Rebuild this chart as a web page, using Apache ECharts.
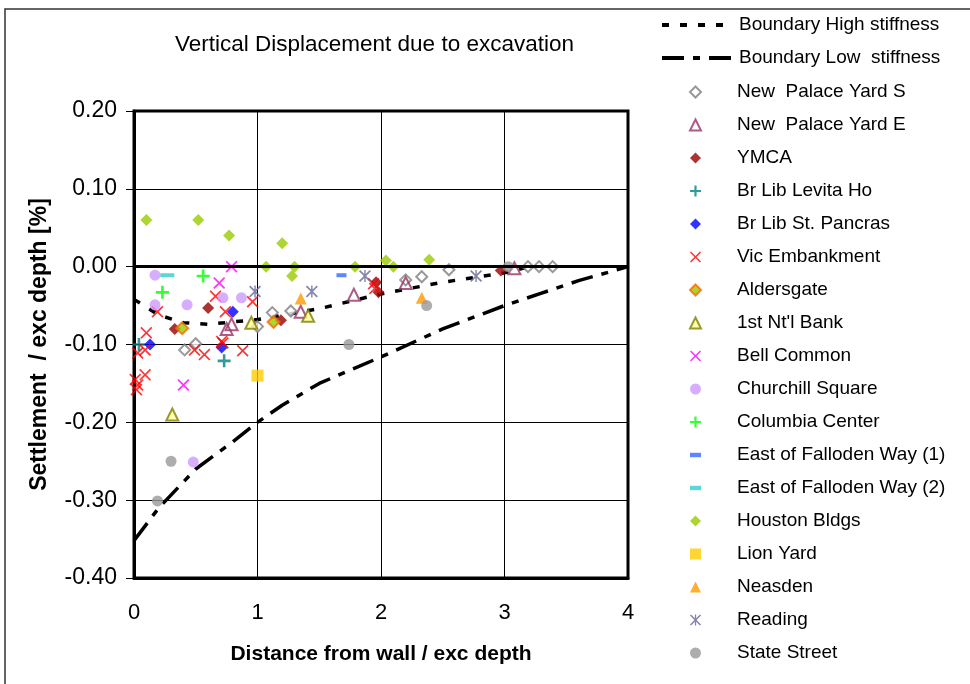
<!DOCTYPE html>
<html>
<head>
<meta charset="utf-8">
<script src="https://cdn.jsdelivr.net/npm/echarts@6/dist/echarts.min.js"></script>
<style>html,body{margin:0;padding:0;background:#fff;}#c{width:970px;height:684px;}</style>
</head>
<body>
<div id="c"></div>
<script>
// ---- data ----
const highStiffX = [0, 0.2, 0.4, 0.6, 1.0, 1.5, 2.0, 2.5, 3.0, 3.2];
const highStiffY = [-0.042, -0.062, -0.072, -0.074, -0.068, -0.054, -0.035, -0.02, -0.008, 0];
const lowStiffX = [0, 0.2, 0.5, 0.8, 1.0, 1.2, 1.5, 2.0, 2.5, 3.0, 3.3, 3.6, 4.0];
const lowStiffY = [-0.352, -0.31, -0.26, -0.225, -0.2, -0.178, -0.15, -0.116, -0.08, -0.05, -0.034, -0.018, 0];

const newPalaceYardS = [[0.41,-0.107],[0.5,-0.099],[1.0,-0.077],[1.12,-0.059],[1.27,-0.057],[2.2,-0.017],[2.33,-0.013],[2.55,-0.004],[3.19,0],[3.28,0],[3.39,0]];
const newPalaceYardE = [[0.75,-0.08],[0.79,-0.074],[1.35,-0.058],[1.78,-0.036],[2.2,-0.021],[3.08,-0.002]];
const ymca = [[0.33,-0.08],[0.6,-0.053],[1.19,-0.069],[1.96,-0.02],[1.98,-0.033],[2.97,-0.005]];
const brLibLevita = [[0.04,-0.1],[0.73,-0.121]];
const brLibStPancras = [[0.13,-0.1],[0.71,-0.104],[0.8,-0.058]];
const vicEmbankment = [[0.19,-0.058],[0.1,-0.085],[0.66,-0.038],[0.74,-0.058],[0.96,-0.045],[0.71,-0.096],[0.03,-0.111],[0.09,-0.107],[0.49,-0.107],[0.57,-0.113],[0.72,-0.098],[0.88,-0.108],[0.01,-0.145],[0.09,-0.139],[0.02,-0.158],[0.03,-0.152],[1.94,-0.022],[1.95,-0.028]];
const aldersgate = [[0.39,-0.079],[1.13,-0.071]];
const firstNtlBank = [[0.31,-0.19],[0.95,-0.072],[1.41,-0.063]];
const bellCommon = [[0.79,0],[0.69,-0.021],[0.4,-0.152]];
const churchillSquare = [[0.17,-0.011],[0.17,-0.049],[0.43,-0.049],[0.72,-0.04],[0.87,-0.04],[0.48,-0.251]];
const columbiaCenter = [[0.56,-0.012],[0.23,-0.033]];
const fallodenWay1 = [[1.68,-0.011]];
const fallodenWay2 = [[0.27,-0.011]];
const houstonBldgs = [[0.1,0.06],[0.52,0.06],[0.77,0.04],[1.07,0],[1.2,0.03],[1.3,0],[1.28,-0.012],[1.79,0],[2.04,0.008],[2.1,0],[2.39,0.009]];
const lionYard = [[1.0,-0.14]];
const neasden = [[1.35,-0.041],[2.33,-0.04]];
const reading = [[0.98,-0.032],[1.44,-0.032],[1.87,-0.012],[2.77,-0.012]];
const stateStreet = [[0.3,-0.25],[0.19,-0.301],[1.74,-0.1],[2.37,-0.05],[3.03,0]];

const xTicks = [0, 1, 2, 3, 4];
const yTicks = [-0.4, -0.3, -0.2, -0.1, 0, 0.1, 0.2];

// ---- symbols ----
const X_PATH = 'path://M0,1L1,0L5,4L9,0L10,1L6,5L10,9L9,10L5,6L1,10L0,9L4,5Z';
const PLUS_PATH = 'path://M4,0H6V4H10V6H6V10H4V6H0V4H4Z';
const STAR_PATH = 'path://M0,1L1,0L5,4L9,0L10,1L6,5L10,9L9,10L5,6L1,10L0,9L4,5Z M4.4,0H5.6V10H4.4Z';
const DASH_PATH = 'path://M0,0H10V4H0Z';

const FONT = "'Liberation Sans', Arial, sans-serif";

function pairs(xs, ys){ return xs.map((x,i)=>[x, ys[i]]); }

function sc(name, data, symbol, size, itemStyle){
  return {name, type:'scatter', data, symbol, symbolSize:size, itemStyle, z:3};
}

const scatterSeries = [
  sc('New  Palace Yard S', newPalaceYardS, 'diamond', 11, {color:'#ffffff', borderColor:'#808080', borderWidth:2}),
  sc('New  Palace Yard E', newPalaceYardE, 'triangle', 12, {color:'rgba(255,255,255,0)', borderColor:'#993366', borderWidth:2}),
  sc('YMCA', ymca, 'diamond', 12, {color:'#990000'}),
  sc('Br Lib Levita Ho', brLibLevita, PLUS_PATH, 13, {color:'#008080'}),
  sc('Br Lib St. Pancras', brLibStPancras, 'diamond', 12, {color:'#0000FF'}),
  sc('Vic Embankment', vicEmbankment, X_PATH, 12, {color:'#FF0000'}),
  sc('Aldersgate', aldersgate, 'diamond', 12, {color:'#99CC00', borderColor:'#FF6600', borderWidth:2}),
  sc("1st Nt'l Bank", firstNtlBank, 'triangle', 12, {color:'#FFFF99', borderColor:'#808000', borderWidth:2}),
  sc('Bell Common', bellCommon, X_PATH, 12, {color:'#FF00FF'}),
  sc('Churchill Square', churchillSquare, 'circle', 11, {color:'#CC99FF'}),
  sc('Columbia Center', columbiaCenter, PLUS_PATH, 13, {color:'#00FF00'}),
  sc('East of Falloden Way (1)', fallodenWay1, DASH_PATH, [10,4], {color:'#3366FF'}),
  sc('East of Falloden Way (2)', fallodenWay2, DASH_PATH, [14,4], {color:'#33CCCC'}),
  sc('Houston Bldgs', houstonBldgs, 'diamond', 12, {color:'#99CC00'}),
  sc('Lion Yard', lionYard, 'rect', 12, {color:'#FFCC00'}),
  sc('Neasden', neasden, 'triangle', 12, {color:'#FF9900'}),
  sc('Reading', reading, STAR_PATH, 12, {color:'#666699'}),
  sc('State Street', stateStreet, 'circle', 11, {color:'#999999'})
];

const lineSeries = [
  {name:'Boundary High stiffness', type:'line', data:pairs(highStiffX, highStiffY), symbol:'none', z:2,
   lineStyle:{color:'#000', width:3.5, type:[7,11]}, itemStyle:{color:'#000'},
   markLine:{silent:true, symbol:'none', label:{show:false}, lineStyle:{color:'#000', width:3, type:'solid'}, data:[{yAxis:0}], animation:false}},
  {name:'Boundary Low  stiffness', type:'line', data:pairs(lowStiffX, lowStiffY), symbol:'none', z:2,
   lineStyle:{color:'#000', width:3.5, type:[22,9,7,9]}, itemStyle:{color:'#000'}}
];

const chart = echarts.init(document.getElementById('c'), null, {renderer:'canvas'});
chart.setOption({
  animation:false,
  backgroundColor:'#fff',
  textStyle:{fontFamily:FONT},
  title:{text:'Vertical Displacement due to excavation', left:170, top:28,
    textStyle:{fontFamily:FONT, fontSize:22.5, fontWeight:'normal', color:'#000'}},
  graphic:[{type:'rect', shape:{x:5, y:9, width:1000, height:700}, style:{fill:'none', stroke:'#333', lineWidth:1.5}, z:-10, silent:true}],
  grid:{left:134, top:111, width:494, height:467, show:true, borderColor:'#000', borderWidth:3, backgroundColor:'transparent'},
  legend:[
    {data:lineSeries.map(s=>s.name), orient:'vertical', left:660, top:15, padding:0, itemGap:13,
     itemWidth:72, itemHeight:14, selectedMode:false,
     itemStyle:{opacity:0},
     lineStyle:{width:4},
     textStyle:{fontFamily:FONT, fontSize:19, color:'#000', lineHeight:20}},
    {data:scatterSeries.map(s=>s.name), orient:'vertical', left:689, top:82, padding:0, itemGap:13,
     itemWidth:11, itemHeight:11, selectedMode:false,
     textStyle:{fontFamily:FONT, fontSize:19, color:'#000', lineHeight:20, padding:[0,0,0,31]}}
  ],
  xAxis:{type:'value', min:xTicks[0], max:xTicks[xTicks.length-1], interval:1,
    name:'Distance from wall / exc depth', nameLocation:'middle', nameGap:66,
    nameTextStyle:{fontFamily:FONT, fontSize:21, fontWeight:'bold', color:'#000'},
    axisLine:{show:true, onZero:false, lineStyle:{color:'#000', width:3}},
    axisTick:{show:false},
    axisLabel:{fontFamily:FONT, fontSize:22, color:'#000', margin:24},
    splitLine:{show:true, lineStyle:{color:'#000', width:1}}},
  yAxis:{type:'value', min:yTicks[0], max:yTicks[yTicks.length-1], interval:0.1,
    name:'Settlement  / exc depth [%]', nameLocation:'middle', nameGap:83,
    nameTextStyle:{fontFamily:FONT, fontSize:23, fontWeight:'bold', color:'#000'},
    axisLine:{show:true, onZero:false, lineStyle:{color:'#000', width:3}},
    axisTick:{show:true, inside:false, length:8, lineStyle:{color:'#000', width:1}},
    axisLabel:{fontFamily:FONT, fontSize:23, color:'#000', margin:17, formatter:v=>v.toFixed(2)},
    splitLine:{show:true, lineStyle:{color:'#000', width:1}}},
  series: lineSeries.concat(scatterSeries)
});
</script>
</body>
</html>
